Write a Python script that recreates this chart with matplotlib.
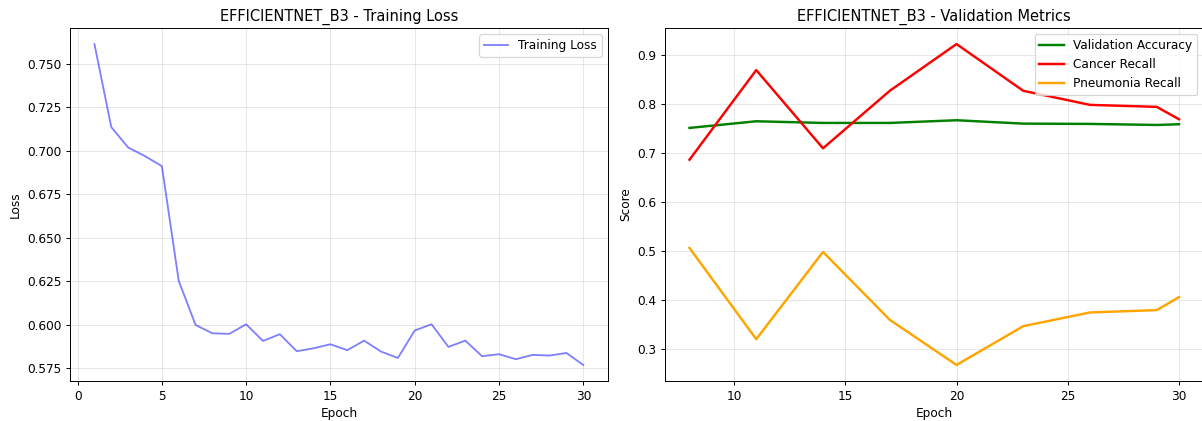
import matplotlib
matplotlib.use("Agg")
import matplotlib.pyplot as plt

# ---- DATA ----
model_name = "EFFICIENTNET_B3"

train_epochs = list(range(1, 31))
train_loss = [0.7615, 0.7137, 0.7020, 0.6970, 0.6913, 0.6253, 0.5999, 0.5951, 0.5948, 0.6003,
              0.5907, 0.5946, 0.5848, 0.5865, 0.5888, 0.5854, 0.5909, 0.5846, 0.5809, 0.5967,
              0.6003, 0.5873, 0.5909, 0.5819, 0.5831, 0.5802, 0.5827, 0.5823, 0.5838, 0.5769]

val_epochs = [8, 11, 14, 17, 20, 23, 26, 29, 30]
val_accuracy = [0.7512, 0.7648, 0.7614, 0.7614, 0.7669, 0.7600, 0.7594, 0.7573, 0.7587]
cancer_recall = [0.6863, 0.8693, 0.7096, 0.8270, 0.9225, 0.8270, 0.7983, 0.7942, 0.7689]
pneumonia_recall = [0.5061, 0.3198, 0.4980, 0.3594, 0.2672, 0.3464, 0.3744, 0.3792, 0.4058]

# reference looks like a downscaled render, so draw at a lower dpi
W, H = 1202, 421
DPI = 87.5
fig = plt.figure(figsize=(W / DPI + 1e-6, H / DPI + 1e-6), dpi=DPI)

ax1 = fig.add_axes([70 / W, 1 - 381 / H, 537.7 / W, 353 / H])
ax2 = fig.add_axes([665 / W, 1 - 381 / H, 538.5 / W, 353 / H])

# Training loss
ax1.plot(train_epochs, train_loss, color="blue", alpha=0.5, label="Training Loss")
ax1.set_title(f"{model_name} - Training Loss")
ax1.set_xlabel("Epoch")
ax1.set_ylabel("Loss")
ax1.legend(loc="upper right")
ax1.grid(True, alpha=0.3)

# Validation metrics
ax2.plot(val_epochs, val_accuracy, color="green", linewidth=2, label="Validation Accuracy")
ax2.plot(val_epochs, cancer_recall, color="red", linewidth=2, label="Cancer Recall")
ax2.plot(val_epochs, pneumonia_recall, color="orange", linewidth=2, label="Pneumonia Recall")
ax2.set_title(f"{model_name} - Validation Metrics")
ax2.set_xlabel("Epoch")
ax2.set_ylabel("Score")
ax2.legend(loc="upper right")
ax2.grid(True, alpha=0.3)

plt.savefig("out.png", dpi=DPI)
